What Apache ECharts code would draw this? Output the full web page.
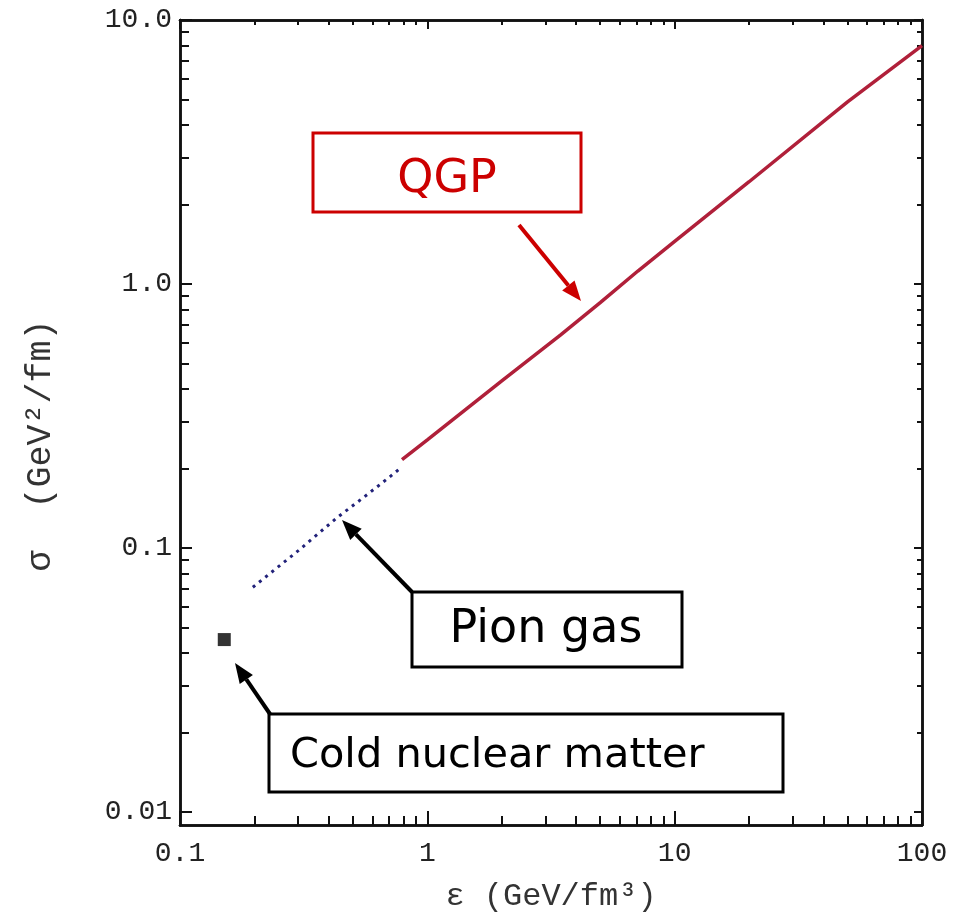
<!DOCTYPE html>
<html>
<head>
<meta charset="utf-8">
<script src="https://cdn.jsdelivr.net/npm/echarts@6/dist/echarts.min.js"></script>
<style>html,body{margin:0;padding:0;background:#fff;}#c{width:954px;height:918px;}</style>
</head>
<body>
<div id="c"></div>
<script>
// ---- data ----
const epsQGP   = [0.79, 1, 2, 3.45, 5, 7.1, 10, 20, 50, 100];
const sigmaQGP = [0.216, 0.257, 0.43, 0.64, 0.85, 1.12, 1.45, 2.44, 4.9, 8.0];
const epsPion   = [0.197, 0.25, 0.3, 0.43, 0.55, 0.7, 0.79];
const sigmaPion = [0.071, 0.085, 0.0975, 0.130, 0.155, 0.185, 0.203];
const epsCold   = [0.151];
const sigmaCold = [0.045];
const xMajor = [0.1, 1, 10, 100];
const xMajorLabels = ['0.1', '1', '10', '100'];
const yMajor = [0.01, 0.1, 1, 10];
const yMajorLabels = ['0.01', '0.1', '1.0', '10.0'];
const xMinor = [0.2,0.3,0.4,0.5,0.6,0.7,0.8,0.9,2,3,4,5,6,7,8,9,20,30,40,50,60,70,80,90];
const yMinor = [0.02,0.03,0.04,0.05,0.06,0.07,0.08,0.09,0.2,0.3,0.4,0.5,0.6,0.7,0.8,0.9,2,3,4,5,6,7,8,9];

const chart = echarts.init(document.getElementById('c'));
const mono = 'Liberation Mono';
const lineCol = '#111';
const xMin = 0.1, xMax = 100, yMin = 0.00893, yMax = 10;

function xAx(pos, ticks, len, labels) {
  return {
    type: 'log', logBase: 10, position: pos, min: xMin, max: xMax,
    axisLine: {show: true, onZero: false, lineStyle: {color: lineCol, width: 2.5}},
    axisTick: {show: true, inside: true, length: len, customValues: ticks, lineStyle: {color: lineCol, width: 2}},
    axisLabel: labels ? {show: true, customValues: xMajor, margin: 15, fontFamily: mono, fontSize: 28, color: '#222',
      formatter: v => { const i = xMajor.findIndex(t => Math.abs(Math.log10(t) - Math.log10(v)) < 1e-6); return i >= 0 ? xMajorLabels[i] : ''; }} : {show: false},
    splitLine: {show: false}, minorTick: {show: false}
  };
}
function yAx(pos, ticks, len, labels) {
  return {
    type: 'log', logBase: 10, position: pos, min: yMin, max: yMax,
    axisLine: {show: true, onZero: false, lineStyle: {color: lineCol, width: 2.5}},
    axisTick: {show: true, inside: true, length: len, customValues: ticks, lineStyle: {color: lineCol, width: 2}},
    axisLabel: labels ? {show: true, customValues: yMajor, margin: 8, fontFamily: mono, fontSize: 28, color: '#222',
      formatter: v => { const i = yMajor.findIndex(t => Math.abs(Math.log10(t) - Math.log10(v)) < 1e-6); return i >= 0 ? yMajorLabels[i] : ''; }} : {show: false},
    splitLine: {show: false}, minorTick: {show: false}
  };
}

const xAxes = [xAx('bottom', xMajor, 14, true), xAx('bottom', xMinor, 9, false), xAx('top', xMajor, 9, false), xAx('top', xMinor, 5, false)];
xAxes[0].name = 'ε (GeV/fm³)';
xAxes[0].nameLocation = 'middle';
xAxes[0].nameGap = 56;
xAxes[0].nameTextStyle = {fontFamily: mono, fontSize: 32, color: '#333'};
const yAxes = [yAx('left', yMajor, 12, true), yAx('left', yMinor, 9, false), yAx('right', yMajor, 8, false), yAx('right', yMinor, 5, false)];
yAxes[0].name = 'σ  (GeV²/fm)';
yAxes[0].nameLocation = 'middle';
yAxes[0].nameGap = 122;
yAxes[0].nameTextStyle = {fontFamily: mono, fontSize: 35, color: '#333', padding: [0, 46, 0, 0]};

function arrow(x1, y1, x2, y2, color, w, headLen, headW) {
  const a = Math.atan2(y2 - y1, x2 - x1);
  const bx = x2 - headLen * Math.cos(a), by = y2 - headLen * Math.sin(a);
  const px = -Math.sin(a) * headW / 2, py = Math.cos(a) * headW / 2;
  return [
    {type: 'line', shape: {x1: x1, y1: y1, x2: bx, y2: by}, style: {stroke: color, lineWidth: w}},
    {type: 'polygon', shape: {points: [[x2, y2], [bx + px, by + py], [bx - px, by - py]]}, style: {fill: color}}
  ];
}
const red = '#cc0000';
const graphics = [
  {type: 'rect', shape: {x: 313, y: 133, width: 268, height: 79}, style: {fill: '#fff', stroke: red, lineWidth: 3}},
  {type: 'text', x: 447, y: 180, style: {text: 'QGP', fill: red, font: '46px "DejaVu Sans"', align: 'center', verticalAlign: 'middle'}},
  ...arrow(519, 225, 581, 301, red, 4, 20, 16),
  {type: 'rect', shape: {x: 412, y: 592, width: 270, height: 75}, style: {fill: '#fff', stroke: '#000', lineWidth: 3}},
  {type: 'text', x: 546, y: 630, style: {text: 'Pion gas', fill: '#000', font: '46px "DejaVu Sans"', align: 'center', verticalAlign: 'middle'}},
  ...arrow(412, 592, 342, 520, '#000', 4, 20, 16),
  {type: 'rect', shape: {x: 269, y: 714, width: 514, height: 78}, style: {fill: '#fff', stroke: '#000', lineWidth: 3}},
  {type: 'text', x: 290, y: 756, style: {text: 'Cold nuclear matter', fill: '#000', font: '41.5px "DejaVu Sans"', align: 'left', verticalAlign: 'middle'}},
  ...arrow(270, 714, 235, 663, '#000', 4, 20, 16)
];

chart.setOption({
  animation: false,
  backgroundColor: '#fff',
  grid: {left: 180, right: 32, top: 20, bottom: 87, containLabel: false},
  xAxis: xAxes,
  yAxis: yAxes,
  series: [
    {type: 'line', name: 'Pion gas', data: epsPion.map((e, i) => [e, sigmaPion[i]]), showSymbol: false, smooth: false,
      lineStyle: {color: '#22227a', width: 3, type: [3, 5]}, z: 3},
    {type: 'line', name: 'QGP', data: epsQGP.map((e, i) => [e, sigmaQGP[i]]), showSymbol: false, smooth: false,
      lineStyle: {color: '#b0203a', width: 3.5}, z: 4},
    {type: 'scatter', name: 'Cold nuclear matter', data: epsCold.map((e, i) => [e, sigmaCold[i]]), symbol: 'rect', symbolSize: 13,
      itemStyle: {color: '#000'}, z: 5}
  ],
  graphic: graphics
});
</script>
</body>
</html>
